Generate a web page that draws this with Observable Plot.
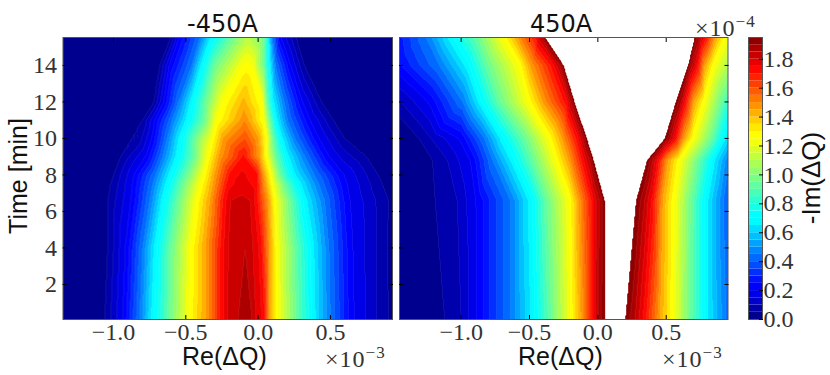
<!DOCTYPE html>
<html><head><meta charset="utf-8">
<script src="https://cdn.jsdelivr.net/npm/d3@7"></script>
<script src="https://cdn.jsdelivr.net/npm/@observablehq/plot@0.6"></script>
<style>
html,body{margin:0;padding:0;background:#fff}
#c{position:relative;width:830px;height:375px;overflow:hidden}
#c>svg,#c>figure{position:absolute;left:0;top:0;margin:0}
.t{position:absolute;white-space:nowrap;line-height:1;color:#111}
.s{font-family:"Liberation Sans",sans-serif}
.d{font-family:"DejaVu Sans",sans-serif}
.m{font-family:"Liberation Serif",serif;color:#333;font-size:24px;letter-spacing:1px}
.m sup{font-size:17px;position:relative;top:-3px;vertical-align:top;line-height:1}
.r{transform:translate(-50%,-50%) rotate(-90deg)}
.n{line-height:.8}
</style></head><body><div id="c"></div>
<script>
// Contour bands of -Im(dQ), in units of 1e-4
const bandStep = 0.05, bandCount = 39;
// Level read at each crossing, ascending
const p1Levels = [0.05,0.21,0.45,0.68,0.95,1.25,1.46,1.73,1.8,1.85];
const p1Times = [0,4,6.6,7.5,8,9,10,11,12,14,15.6];
const p1Left = [
 [-1.06,-.93,-.82,-.73,-.61,-.48,-.36,-.25,-.21,-.14],
 [-1.04,-.91,-.80,-.71,-.60,-.47,-.36,-.25,-.205,null],
 [-1.04,-.87,-.75,-.66,-.55,-.43,-.33,-.235,-.19,null],
 [-1.02,-.86,-.73,-.63,-.52,-.40,-.31,-.21,null,null],
 [-1.00,-.85,-.71,-.61,-.49,-.38,-.30,-.19,null,null],
 [-.95,-.77,-.66,-.56,-.44,-.35,-.27,null,null,null],
 [-.84,-.73,-.63,-.54,-.435,-.32,-.24,null,null,null],
 [-.80,-.71,-.595,-.49,-.37,-.29,-.12,null,null,null],
 [-.72,-.65,-.55,-.46,-.36,-.25,null,null,null,null],
 [-.68,-.61,-.46,-.39,-.30,-.11,null,null,null,null],
 [-.60,-.54,-.40,-.32,-.17,null,null,null,null,null]];
const p1PeakRe = [-.09,-.09,-.11,-.11,-.11,-.10,-.09,-.10,-.10,-.08,-.07];
const p1PeakV = [1.89,1.85,1.81,1.78,1.76,1.72,1.6,1.5,1.42,1.27,1.1];
const p1Right = [
 [.90,.65,.50,.38,.26,.135,.08,.04,-.014,-.04],
 [.895,.64,.49,.37,.25,.13,.08,.02,-.035,null],
 [.90,.62,.46,.32,.22,.12,.07,-.01,-.055,null],
 [.86,.60,.42,.28,.18,.10,.05,-.01,null,null],
 [.83,.58,.39,.24,.15,.09,.04,-.01,null,null],
 [.75,.48,.325,.20,.12,.06,.01,null,null,null],
 [.60,.41,.256,.16,.10,.06,0,null,null,null],
 [.52,.35,.205,.125,.08,.04,-.07,null,null,null],
 [.44,.30,.18,.10,.06,.03,null,null,null,null],
 [.32,.22,.12,.08,.04,-.04,null,null,null,null],
 [.26,.15,.10,.07,.04,null,null,null,null,null]];

const p2Levels = [0.05,0.1,0.21,0.45,0.68,0.95,1.25,1.46,1.73,1.85,1.95];
const p2Times = [0,6.6,8.8,10,12,14,15.6];
const p2Left = [
 [-1.12,-1.00,-.88,-.64,-.47,-.34,-.20,-.12,-.04,0,.05],
 [-1.19,-1.03,-.88,-.64,-.49,-.37,-.21,-.14,-.04,.01,.05],
 [-1.21,-1.10,-.92,-.77,-.62,-.47,-.31,-.21,-.11,-.06,-.03],
 [-1.31,-1.22,-1.00,-.83,-.70,-.53,-.36,-.26,-.15,-.11,-.08],
 [-1.55,-1.44,-1.23,-.99,-.86,-.71,-.51,-.40,-.23,-.20,-.17],
 [-1.84,-1.67,-1.50,-1.16,-.95,-.80,-.58,-.49,-.33,-.28,-.25],
 [-1.84,-1.67,-1.53,-1.26,-1.08,-.88,-.70,-.59,-.45,-.42,-.39]];
const p2GapRe = [.125,.16,.16,.2,.2,.2,.16];
const p2GapV = [2.1,2.15,2.5,2.8,3,3.2,3.2];
const p2Right = [
 [null,null,null,.94,.79,.67,.55,.45,.34,.27,.20],
 [null,null,null,.92,.79,.68,.56,.47,.40,.34,.28],
 [null,null,null,.96,.84,.73,.60,.51,.44,.40,.36],
 [null,null,null,1.06,.92,.83,.70,.63,.57,.53,.49],
 [null,null,null,null,1.01,.90,.78,.70,.64,.61,.57],
 [null,null,null,null,1.16,1.03,.85,.78,.73,.69,.66],
 [null,null,null,null,1.18,1.06,.94,.86,.79,.75,.71]];
const p2EdgeV = [.25,.25,.25,.3,.45,.5,.5];

const xTicks = [-1,-0.5,0,0.5], yTicks = [2,4,6,8,10,12,14], barTicks = [0,.2,.4,.6,.8,1,1.2,1.4,1.6,1.8];

function jet(t){
  const s=[[0,0,0,.5],[.11,0,0,1],[.125,0,0,1],[.35,0,1,1],[.375,0,1,1],[.64,1,1,0],[.66,1,1,0],[.89,1,0,0],[1,.5,0,0]];
  let i=1; while(i<s.length-1&&t>s[i][0]) i++;
  const a=s[i-1],b=s[i],u=(t-a[0])/(b[0]-a[0]);
  const k=j=>Math.round(255*(a[j]+(b[j]-a[j])*u));
  return `rgb(${k(1)},${k(2)},${k(3)})`;
}
const bands = d3.range(bandCount).map(i=>i*bandStep);
const topLevel = bandCount*bandStep;
const thresholds = [...bands, topLevel];
const colorScale = {type:"threshold", domain: thresholds.slice(1),
  range:[...bands.map(b=>jet((b+bandStep/2)/topLevel)), "#fff"]};

function reads(times, levels, left, peakRe, peakV, right, edgeV, lo, hi){
  const out=[];
  times.forEach((t,r)=>{
    out.push({re:lo,t,v:0},{re:peakRe[r],t,v:peakV[r]},{re:hi,t,v:edgeV?edgeV[r]:0});
    levels.forEach((v,k)=>{
      if(left[r][k]!=null) out.push({re:left[r][k],t,v});
      if(right[r][k]!=null) out.push({re:right[r][k],t,v});
    });
  });
  return out;
}
const p1Data = reads(p1Times,p1Levels,p1Left,p1PeakRe,p1PeakV,p1Right,null,-1.6,1.2);
const p2Data = reads(p2Times,p2Levels,p2Left,p2GapRe,p2GapV,p2Right,p2EdgeV,-2.1,1.35);

const tickFont = {fontFamily:"Liberation Serif, serif", fontSize:24, fill:"#333"};
function panel(data, xDomain, left, right, showY){
  return Plot.plot({
    width:830, height:375, marginLeft:left, marginRight:830-right, marginTop:37, marginBottom:56,
    style:{background:"transparent", overflow:"visible"},
    x:{domain:xDomain, axis:null}, y:{domain:[0.08,15.53], axis:null},
    color:colorScale,
    marks:[
      Plot.contour(data,{x:"re",y:"t",fill:"v",interpolate:"barycentric",thresholds,pixelSize:1,smooth:false,
        stroke:"#fff",strokeOpacity:.12,strokeWidth:.6}),
      Plot.frame({stroke:"#555",strokeWidth:1}),
      Plot.axisX({anchor:"bottom",ticks:xTicks,tickSize:-4,tickPadding:7,tickFormat:d3.format(".1f"),label:null,...tickFont}),
      Plot.axisX({anchor:"top",ticks:xTicks,tickSize:-4,tickFormat:()=>"",label:null}),
      Plot.axisY({anchor:"left",ticks:yTicks,tickSize:-4,tickPadding:10,tickFormat:showY?d3.format("d"):()=>"",label:null,...tickFont}),
      Plot.axisY({anchor:"right",ticks:yTicks,tickSize:-4,tickFormat:()=>"",label:null})
    ]
  });
}
const root = document.getElementById("c");
root.append(panel(p1Data,[-1.349,0.929],62.5,392,true));
root.append(panel(p2Data,[-1.451,0.952],399,727.5,false));
root.append(Plot.plot({
  width:830,height:375,marginLeft:748,marginRight:68,marginTop:37,marginBottom:56,
  style:{background:"transparent",overflow:"visible"},
  x:{domain:[0,1],axis:null}, y:{domain:[0,topLevel],axis:null}, color:colorScale,
  marks:[
    Plot.rect(bands,{x1:0,x2:1,y1:d=>d,y2:d=>d+bandStep,fill:d=>d}),
    Plot.frame({stroke:"#555",strokeWidth:1}),
    Plot.axisY({anchor:"right",ticks:barTicks,tickSize:-4,tickPadding:5,tickFormat:d3.format(".1f"),label:null,...tickFont})
  ]
}));
function label(cls,html,x,y,size){
  const e=document.createElement("div"); e.className="t "+cls; e.innerHTML=html;
  e.style.left=x+"px"; e.style.top=y+"px"; if(size) e.style.fontSize=size+"px"; root.append(e);
}
label("d","-450A",187,12,24);
label("d","450A",530,12,24);
label("s n","Re(ΔQ)",182,346,25);
label("s n","Re(ΔQ)",518,346,25);
label("m","×10<sup>−3</sup>",325,347);
label("m","×10<sup>−3</sup>",662,347);
label("m","×10<sup>−4</sup>",695,16);
label("s r","Time [min]",18,176,25);
label("s r","-Im(ΔQ)",811,178,26);
</script></body></html>
